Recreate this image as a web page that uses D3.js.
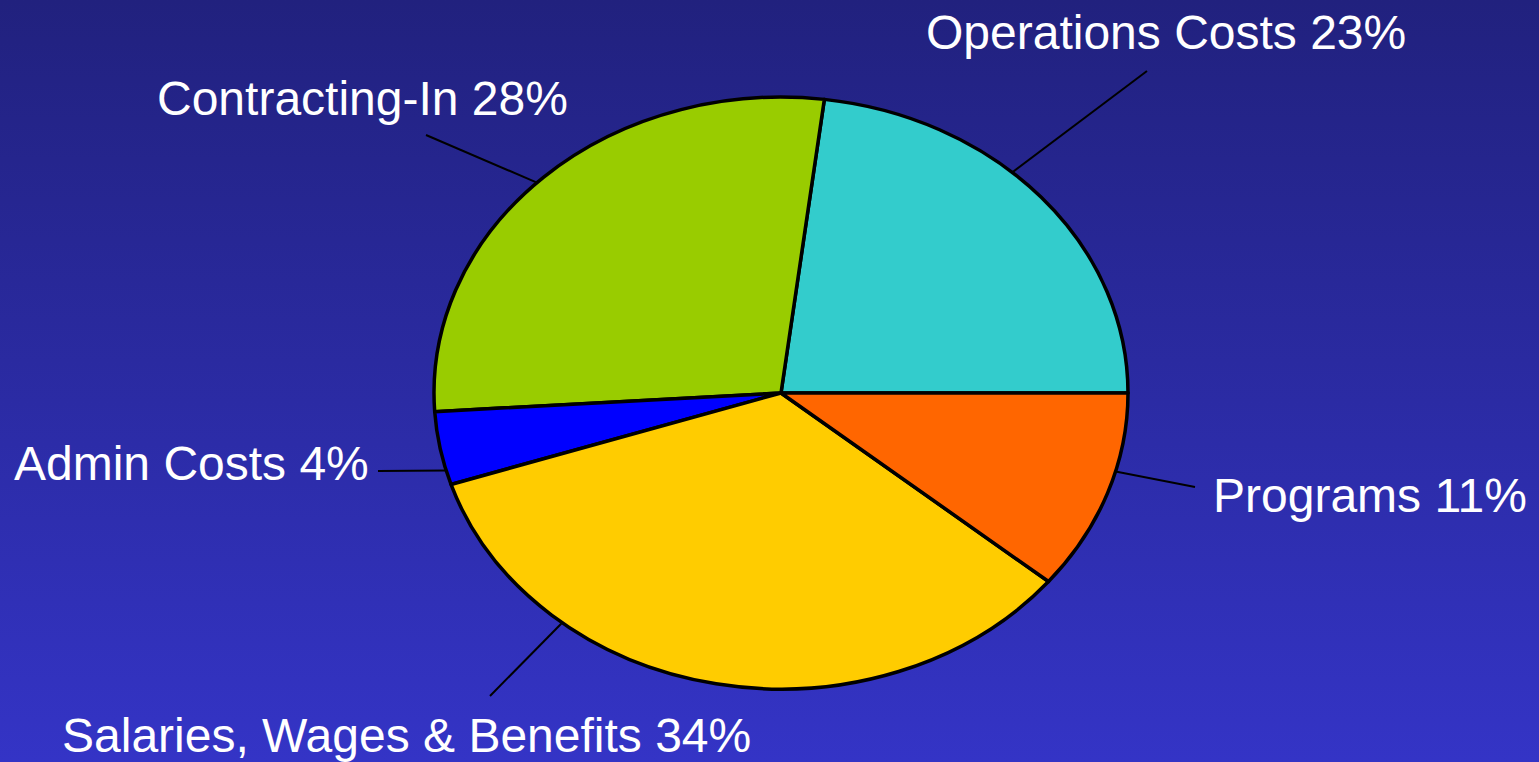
<!DOCTYPE html>
<html>
<head>
<meta charset="utf-8">
<script src="https://cdn.jsdelivr.net/npm/d3@7"></script>
<style>
    html, body { margin: 0; padding: 0; overflow: hidden; }
    svg { display: block; }
</style>
</head>
<body>
<svg id="chart" width="1539" height="762"></svg>
<script>
// data, counter-clockwise from 3 o'clock
var categories = ["Operations Costs", "Contracting-In", "Admin Costs", "Salaries, Wages & Benefits", "Programs"];
var shares = [23, 28, 4, 34, 11];
var colours = ["#33cccc", "#99cc00", "#0000ff", "#ffcc00", "#ff6600"];

// label layout (same order): text anchor, where the leader touches the rim (deg, clockwise from 12), leader end
var labelX = [926, 157, 14, 62, 1213];
var labelY = [49, 115, 480, 752, 512];
var leaderAngle = [41.8, -44.7, -105.2, -140.9, 105.4];
var leaderEndX = [1147, 426, 378, 490, 1195];
var leaderEndY = [71, 135, 471, 696, 487];

var svg = d3.select("#chart"),
    width = +svg.attr("width"),
    height = +svg.attr("height");

var cx = 781, cy = 393, rx = 347, ry = 296;

// background
var defs = svg.append("defs");
var grad = defs.append("linearGradient")
    .attr("id", "bg")
    .attr("x1", 0).attr("y1", 0).attr("x2", 0).attr("y2", 1);
grad.append("stop").attr("offset", "0%").attr("stop-color", "#21217e");
grad.append("stop").attr("offset", "100%").attr("stop-color", "#3434c6");

svg.append("rect")
    .attr("width", width)
    .attr("height", height)
    .attr("fill", "url(#bg)");

var pie = d3.pie()
    .sort(null)
    .value(d => d)
    .startAngle(Math.PI / 2)
    .endAngle(Math.PI / 2 - 2 * Math.PI);

var arc = d3.arc().innerRadius(0).outerRadius(1);

var g = svg.append("g")
    .attr("transform", "translate(" + cx + "," + cy + ") scale(" + rx + "," + ry + ")");

g.selectAll(".slice")
    .data(pie(shares))
    .join("path")
    .attr("class", "slice")
    .attr("d", arc)
    .attr("fill", (d, i) => colours[i])
    .attr("stroke", "#000")
    .attr("stroke-width", 3.5)
    .attr("stroke-linejoin", "round")
    .attr("vector-effect", "non-scaling-stroke");

// leader lines
svg.append("g")
    .selectAll("line")
    .data(categories)
    .join("line")
    .attr("x1", (d, i) => cx + rx * Math.sin(leaderAngle[i] * Math.PI / 180))
    .attr("y1", (d, i) => cy - ry * Math.cos(leaderAngle[i] * Math.PI / 180))
    .attr("x2", (d, i) => leaderEndX[i])
    .attr("y2", (d, i) => leaderEndY[i])
    .attr("stroke", "#000")
    .attr("stroke-width", 2);

// labels
svg.append("g")
    .selectAll("text")
    .data(categories)
    .join("text")
    .attr("x", (d, i) => labelX[i])
    .attr("y", (d, i) => labelY[i])
    .attr("fill", "#fff")
    .style("font-family", "'Liberation Sans', Arial, sans-serif")
    .style("font-size", "48px")
    .text((d, i) => d + " " + shares[i] + "%");
</script>
</body>
</html>
